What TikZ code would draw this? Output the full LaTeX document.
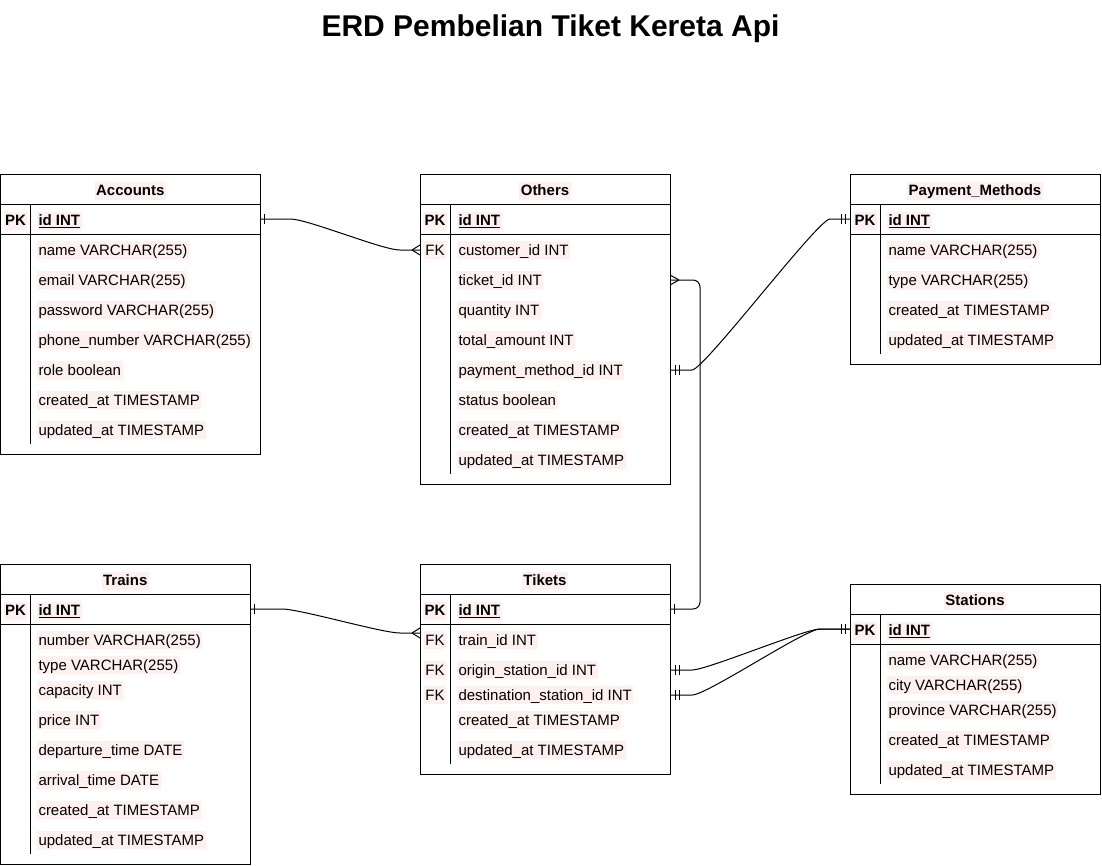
\documentclass[tikz,border=0pt]{standalone}
\usepackage{fontspec}
\setmainfont{Liberation Sans}
\definecolor{hl}{HTML}{FFF0F0}
\newcommand{\fsz}{\fontsize{15bp}{17bp}\selectfont}
\newcommand{\erframe}[7]{%
  \node[tbl, minimum width=#4 bp, minimum height=#5 bp] (#1) at (#2,#3) {};
  \draw (#2,#3+30) -- ++(#4,0);
  \draw (#2,#3+60) -- ++(#4,0);
  \draw (#2+30,#3+30) -- (#2+30,#7);
  \node[hdr] (#1-t) at (#2+#4/2,#3+16.5) {#6};
}
\begin{document}
\begin{tikzpicture}[x=1bp,y=-1bp,line width=1bp,
  tbl/.style={draw, anchor=north west, inner sep=0pt, line width=1bp},
  txt/.style={fill=hl, inner xsep=1.5bp, inner ysep=1bp, text height=13bp, text depth=3bp, font=\fsz},
  fld/.style={txt, anchor=west},
  keyf/.style={txt, anchor=center},
  hdr/.style={txt, anchor=center, font=\fsz\bfseries},
  conn/.style={line width=1bp}
]
\useasboundingbox (0,0) rectangle (1102,866);
\node[anchor=base, font=\fontsize{30bp}{34bp}\selectfont\bfseries] (title) at (550.5,36) {ERD Pembelian Tiket Kereta Api};

% Accounts
\erframe{acc}{0.5}{174}{259.5}{280}{Accounts}{444}
\node[keyf] (acc-pk) at (15.5,220.5) {\bfseries PK};
\node[fld] (acc-id) at (36.5,220.5) {\bfseries\underline{id INT}};
\foreach \yy/\tt/\nn in {250/name VARCHAR(255)/name, 280/email VARCHAR(255)/email, 310/password VARCHAR(255)/pass, 340/phone\_number VARCHAR(255)/phone, 370/role boolean/role, 400/created\_at TIMESTAMP/cre, 430/updated\_at TIMESTAMP/upd}
  \node[fld] (acc-\nn) at (36.5,\yy) {\tt};

% Others
\erframe{oth}{420}{174}{250}{310}{Others}{474}
\node[keyf] (oth-pk) at (435,220.5) {\bfseries PK};
\node[fld] (oth-id) at (456.5,220.5) {\bfseries\underline{id INT}};
\node[keyf] (oth-fk) at (435,250) {FK};
\foreach \yy/\tt/\nn in {250/customer\_id INT/cust, 280/ticket\_id INT/tick, 310/quantity INT/qty, 340/total\_amount INT/tot, 370/payment\_method\_id INT/pay, 400/status boolean/stat, 430/created\_at TIMESTAMP/cre, 460/updated\_at TIMESTAMP/upd}
  \node[fld] (oth-\nn) at (456.5,\yy) {\tt};

% Payment_Methods
\erframe{pm}{850}{174}{250}{190}{Payment\_Methods}{354}
\node[keyf] (pm-pk) at (865,220.5) {\bfseries PK};
\node[fld] (pm-id) at (886.5,220.5) {\bfseries\underline{id INT}};
\foreach \yy/\tt/\nn in {250/name VARCHAR(255)/name, 280/type VARCHAR(255)/type, 310/created\_at TIMESTAMP/cre, 340/updated\_at TIMESTAMP/upd}
  \node[fld] (pm-\nn) at (886.5,\yy) {\tt};

% Trains
\erframe{tr}{0.5}{564}{249.5}{300}{Trains}{854}
\node[keyf] (tr-pk) at (15.5,610.5) {\bfseries PK};
\node[fld] (tr-id) at (36.5,610.5) {\bfseries\underline{id INT}};
\foreach \yy/\tt/\nn in {640/number VARCHAR(255)/num, 665/type VARCHAR(255)/type, 690/capacity INT/cap, 720/price INT/price, 750/departure\_time DATE/dep, 780/arrival\_time DATE/arr, 810/created\_at TIMESTAMP/cre, 840/updated\_at TIMESTAMP/upd}
  \node[fld] (tr-\nn) at (36.5,\yy) {\tt};

% Tikets
\erframe{tik}{420}{564}{250}{210}{Tikets}{764}
\node[keyf] (tik-pk) at (435,610.5) {\bfseries PK};
\node[fld] (tik-id) at (456.5,610.5) {\bfseries\underline{id INT}};
\node[keyf] (tik-fk1) at (435,640) {FK};
\node[keyf] (tik-fk2) at (435,670) {FK};
\node[keyf] (tik-fk3) at (435,695) {FK};
\foreach \yy/\tt/\nn in {640/train\_id INT/train, 670/origin\_station\_id INT/orig, 695/destination\_station\_id INT/dest, 720/created\_at TIMESTAMP/cre, 750/updated\_at TIMESTAMP/upd}
  \node[fld] (tik-\nn) at (456.5,\yy) {\tt};

% Stations
\erframe{st}{850}{584}{250}{210}{Stations}{784}
\node[keyf] (st-pk) at (865,630.5) {\bfseries PK};
\node[fld] (st-id) at (886.5,630.5) {\bfseries\underline{id INT}};
\foreach \yy/\tt/\nn in {660/name VARCHAR(255)/name, 685/city VARCHAR(255)/city, 710/province VARCHAR(255)/prov, 740/created\_at TIMESTAMP/cre, 770/updated\_at TIMESTAMP/upd}
  \node[fld] (st-\nn) at (886.5,\yy) {\tt};

% connector end points
\coordinate (acc-id-e) at (260,219);
\coordinate (oth-cust-w) at (420,250);
\coordinate (oth-tick-e) at (670,280);
\coordinate (oth-pay-e) at (670,370);
\coordinate (pm-id-w) at (850,219);
\coordinate (tr-id-e) at (250,609);
\coordinate (tik-train-w) at (420,633);
\coordinate (tik-id-e) at (670,609);
\coordinate (tik-orig-e) at (670,670);
\coordinate (tik-dest-e) at (670,695);
\coordinate (st-id-w) at (850,629);

% Accounts -> Others
\draw[conn] (acc-id-e) -- ++(30,0) .. controls +(18,0) and +(-18,0) .. ([xshift=-20bp]oth-cust-w) -- (oth-cust-w);
\draw[conn] ([xshift=4bp]acc-id-e) ++(0,-5) -- ++(0,10);
\draw[conn] ([xshift=-8bp]oth-cust-w) -- ++(8,-5);
\draw[conn] ([xshift=-8bp]oth-cust-w) -- ++(8,5);

% Others ticket_id -> Tikets id
\draw[conn, rounded corners=7bp] (oth-tick-e) -- ++(30,0) |- (tik-id-e);
\draw[conn] ([xshift=9bp]oth-tick-e) -- ++(-9,-5);
\draw[conn] ([xshift=9bp]oth-tick-e) -- ++(-9,5);
\draw[conn] ([xshift=4bp]tik-id-e) ++(0,-5) -- ++(0,10);

% Others payment -> Payment_Methods
\draw[conn] (oth-pay-e) -- ++(22,0) .. controls +(12,0) and +(-12,0) .. ([xshift=-20bp]pm-id-w) -- (pm-id-w);
\draw[conn] ([xshift=5bp]oth-pay-e) ++(0,-5) -- ++(0,10);
\draw[conn] ([xshift=9bp]oth-pay-e) ++(0,-5) -- ++(0,10);
\draw[conn] ([xshift=-5bp]pm-id-w) ++(0,-5) -- ++(0,10);
\draw[conn] ([xshift=-9bp]pm-id-w) ++(0,-5) -- ++(0,10);

% Trains -> Tikets
\draw[conn] (tr-id-e) -- ++(32,0) .. controls +(18,0) and +(-18,0) .. ([xshift=-20bp]tik-train-w) -- (tik-train-w);
\draw[conn] ([xshift=4bp]tr-id-e) ++(0,-5) -- ++(0,10);
\draw[conn] ([xshift=-8bp]tik-train-w) -- ++(8,-5);
\draw[conn] ([xshift=-8bp]tik-train-w) -- ++(8,5);

% Tikets -> Stations
\draw[conn] (tik-orig-e) -- ++(22,0) .. controls +(15,0) and +(-15,0) .. ([xshift=-30bp]st-id-w) -- (st-id-w);
\draw[conn] (tik-dest-e) -- ++(22,0) .. controls +(15,0) and +(-15,0) .. ([xshift=-30bp]st-id-w) -- (st-id-w);
\foreach \pp in {tik-orig-e, tik-dest-e} {
  \draw[conn] ([xshift=5bp]\pp) ++(0,-5) -- ++(0,10);
  \draw[conn] ([xshift=9bp]\pp) ++(0,-5) -- ++(0,10);
}
\draw[conn] ([xshift=-5bp]st-id-w) ++(0,-5) -- ++(0,10);
\draw[conn] ([xshift=-9bp]st-id-w) ++(0,-5) -- ++(0,10);
\end{tikzpicture}
\end{document}
